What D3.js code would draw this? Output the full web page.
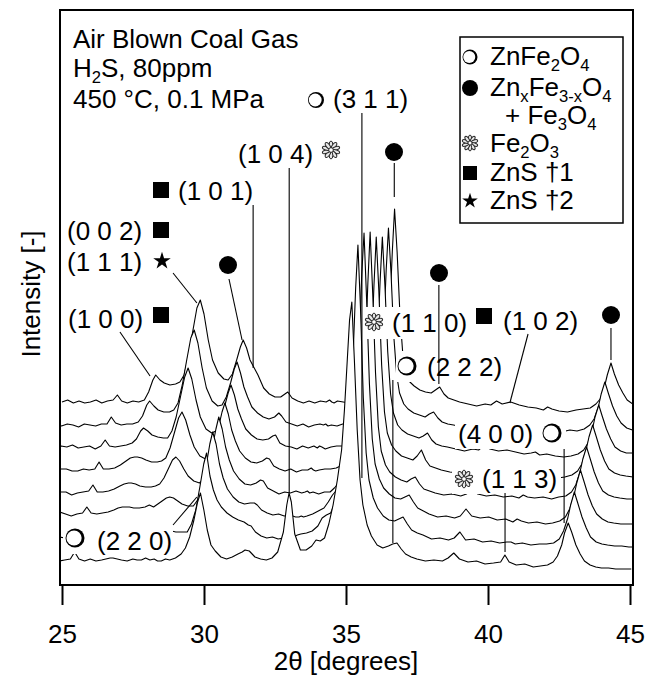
<!DOCTYPE html>
<html>
<head>
<meta charset="utf-8">
<script src="https://cdn.jsdelivr.net/npm/d3@7"></script>
<style>
    body { margin: 0; background: #fff; }
    text { font-family: 'Liberation Sans', Arial, sans-serif; fill: #000; }
</style>
</head>
<body>
<svg id="chart" width="645" height="677"></svg>
<script>
// 2θ grid of the top scan; every lower scan is the same grid moved left (waterfall)
const twoTheta = [
    25.0, 25.2, 25.4, 25.6, 25.8, 26.0, 26.2, 26.4, 26.6,
    26.8, 26.95, 27.1,
    27.3, 27.5, 27.7, 27.9,
    28.05, 28.2, 28.3, 28.45, 28.6,
    28.8, 29.0, 29.15,
    29.3, 29.45, 29.6, 29.75, 29.87, 30.0, 30.15, 30.3, 30.5, 30.7,
    30.85, 31.0, 31.15, 31.28, 31.38, 31.5, 31.62, 31.75, 31.9, 32.1, 32.3, 32.5, 32.7,
    32.85, 32.95, 33.1, 33.3, 33.5, 33.7, 33.9, 34.1,
    34.3, 34.42, 34.5, 34.58, 34.7, 34.9, 35.1, 35.3,
    35.45, 35.6, 35.75, 35.9, 36.05, 36.2, 36.35, 36.45, 36.55, 36.63, 36.71, 36.8, 36.9, 37.0, 37.1, 37.25, 37.4, 37.6, 37.8,
    38.0, 38.15, 38.3, 38.45, 38.6, 38.8,
    39.0, 39.3, 39.6, 39.9, 40.1, 40.3, 40.5, 40.8, 41.1, 41.4, 41.7, 41.95, 42.1, 42.25, 42.5, 42.8, 43.1, 43.35,
    43.6, 43.8, 43.95, 44.1, 44.2, 44.33, 44.45, 44.6, 44.75, 44.9, 45.1, 45.3, 45.5, 45.75, 46.0, 46.25, 46.55
]

// waterfall: horizontal shift [deg] and vertical offset [a.u.] of each scan, top to bottom
const shift = [0, -0.215, -0.43, -0.645, -0.86, -1.075, -1.29, -1.505]
const offset = [183, 160, 138, 115, 92, 71, 47, 25]

// intensities above each scan's own offset [a.u.]
const scan1 = [
    0, 2, -1, 1, -1, 0, 2, -1, 1,
    2, 7, 1,
    -1, 1, 0, 2,
    10, 22, 27, 22, 19,
    17, 18, 20,
    27, 45, 70, 94, 102, 88, 62, 42, 29, 23,
    22, 28, 42, 55, 62, 54, 42, 35, 27, 14, 8, 5, 5,
    8, 10, 4, 1, -1, 1, -1, 1,
    0, 2, 0, -1, 1, 0, -1, 0,
    1, 2, 4, 7, 12, 20, 35, 55, 96, 150, 193, 150, 87, 48, 30, 20, 16, 12, 10,
    9, 12, 15, 8, 4, 2,
    0, -2, -4, -2, -3, 1, -2, 0, -3, -5, -6, -8, -5, -7, -9, -10, -8, -7,
    -6, -2, 3, 15, 27, 39, 28, 17, 9, 2, -2, -3, -4, -4, -4, -4, -4
]
const scan2 = [
    1, -1, 1, 0, -2, 1, 0, -1, 1,
    1, 8, 2,
    0, 1, 1, 3,
    9, 20, 24, 19, 15,
    13, 13, 15,
    22, 40, 64, 87, 95, 82, 57, 37, 24, 19,
    20, 28, 42, 56, 63, 52, 38, 28, 18, 12, 8, 6, 8,
    12, 9, 3, 1, -1, 1, -2, 0,
    1, 0, 1, -1, 0, -1, 1, 1,
    2, 4, 7, 10, 15, 24, 40, 60, 100, 155, 197, 152, 88, 50, 32, 21, 16, 12, 10,
    8, 11, 13, 7, 3, 1,
    0, -2, -1, -3, -2, 1, -3, -2, -4, -3, -5, -4, -3, -6, -5, -7, -5, -6,
    -4, 0, 6, 18, 31, 43, 32, 19, 9, 2, -3, -5, -6, -6, -6, -6, -6
]
const scan3 = [
    0, -2, 1, 0, 2, -1, 0, 1, -2,
    1, 7, 1,
    0, 1, 2, 4,
    8, 16, 19, 16, 12,
    10, 9, 9,
    16, 30, 50, 70, 79, 68, 47, 30, 18, 14,
    16, 25, 40, 54, 62, 52, 38, 28, 18, 12, 8, 7, 8,
    11, 12, 4, 1, 0, -2, 1, -1,
    1, -1, 1, 0, -2, 0, 1, 1,
    3, 6, 10, 14, 20, 30, 48, 70, 110, 165, 210, 162, 95, 53, 34, 22, 17, 13, 11,
    9, 11, 14, 7, 3, 1,
    0, -2, -4, -2, -3, 2, -2, -4, -3, -5, -7, -6, -5, -8, -7, -9, -10, -9,
    -7, -3, 4, 17, 30, 42, 31, 18, 8, 0, -4, -6, -6, -7, -6, -6, -6
]
const scan4 = [
    1, -1, -1, 1, 1, -1, -1, 1, 0,
    1, 8, 1,
    1, 2, 5, 9,
    12, 13, 13, 12, 10,
    8, 8, 9,
    12, 22, 37, 52, 58, 50, 35, 23, 14, 11,
    15, 25, 42, 58, 67, 56, 40, 29, 19, 12, 8, 7, 9,
    12, 11, 4, 1, -1, 1, -2, 0,
    0, 2, 0, -1, 0, 1, 1, 2,
    4, 8, 12, 17, 24, 35, 55, 80, 125, 185, 233, 180, 105, 58, 37, 25, 19, 14, 12,
    10, 14, 20, 10, 4, 2,
    0, -2, -3, -1, -3, 3, -2, -4, -3, -5, -5, -7, -4, -6, -8, -7, -8, -7,
    -5, -1, 6, 20, 33, 45, 34, 20, 9, 1, -3, -5, -6, -7, -7, -7, -7
]
const scan5 = [
    0, 2, 0, -1, 1, 1, -2, 0, 1,
    2, 8, 1,
    1, 2, 4, 7,
    9, 10, 10, 9, 7,
    6, 6, 7,
    9, 15, 24, 33, 36, 32, 24, 17, 12, 10,
    14, 25, 45, 64, 76, 64, 46, 33, 22, 14, 9, 8, 10,
    13, 12, 5, 2, -1, 1, 0, 2,
    0, 1, 2, 0, 1, -1, 1, 1,
    5, 10, 15, 22, 32, 45, 70, 100, 150, 210, 261, 200, 120, 66, 42, 28, 21, 16, 13,
    11, 14, 16, 9, 4, 2,
    0, -2, -1, -3, -1, 4, -1, -3, -2, -4, -3, -5, -2, -4, -5, -4, -6, -4,
    -3, 1, 8, 21, 34, 46, 35, 21, 10, 2, -2, -4, -5, -6, -6, -6, -6
]
const scan6 = [
    1, -1, 1, -1, 0, 2, 0, -2, 0,
    1, 7, 1,
    0, 1, 2, 4,
    6, 7, 7, 7, 6,
    6, 7, 9,
    7, 10, 13, 16, 17, 16, 13, 10, 8, 8,
    14, 26, 48, 70, 82, 70, 50, 36, 25, 17, 12, 10, 11,
    11, 9, 4, 1, -1, 0, -2, -1,
    -3, -3, -2, -3, -2, 0, 3, 6,
    12, 19, 24, 32, 45, 62, 90, 125, 180, 240, 281, 215, 130, 75, 50, 35, 26, 20, 16,
    15, 17, 19, 12, 6, 3,
    0, -3, -2, -4, -2, 5, -2, -4, -3, -6, -5, -8, -5, -7, -9, -8, -10, -9,
    -7, -3, 5, 18, 31, 44, 33, 19, 8, 0, -5, -8, -9, -10, -10, -10, -10
]
const scan7 = [
    0, -1, 1, 1, -1, -1, 1, 0, -2,
    1, 8, 2,
    0, 1, 2, 3,
    4, 5, 5, 5, 4,
    4, 4, 5,
    5, 6, 7, 8, 8, 8, 7, 6, 6, 6,
    14, 28, 52, 74, 85, 62, 48, 38, 31, 25, 21, 18, 16,
    13, 12, 6, 2, 0, 1, -1, 0,
    0, 1, 2, 3, 4, 5, 7, 12,
    20, 23, 25, 35, 50, 70, 100, 140, 190, 250, 293, 230, 140, 85, 58, 40, 30, 22, 18,
    17, 19, 21, 14, 8, 5,
    3, -1, 0, -2, 0, 6, -2, -1, -4, -3, -5, -4, -4, -6, -5, -7, -6, -6,
    -5, -1, 7, 20, 33, 46, 35, 21, 10, 1, -4, -6, -7, -8, -8, -9, -9
]
const scan8 = [
    0, 1, 0, -1, 1, 0, 2, -1, 0,
    1, 8, 1,
    -1, 1, -1, 0,
    1, 2, 2, 1, 0,
    -1, 1, 0,
    0, 2, 0, 1, -1, -1, 1, 0, 2, 6,
    12, 23, 40, 58, 67, 50, 30, 15, 9, 3, 1, 3, 6,
    8, 10, 9, 3, 1, 0, 2, 8,
    28, 55, 67, 58, 26, 10, 10, 14,
    20, 19, 22, 36, 55, 80, 110, 150, 200, 240, 258, 200, 130, 80, 55, 35, 24, 15, 12,
    14, 16, 17, 11, 6, 3,
    1, -1, 0, -1, 2, 7, 1, -2, -1, -4, -3, -2, 5, -2, -5, -4, -7, -6,
    -5, -2, 4, 15, 27, 37, 28, 15, 6, -1, -5, -7, -8, -8, -9, -9, -9
]
const scans = [scan1, scan2, scan3, scan4, scan5, scan6, scan7, scan8]

const xTicks = [25, 30, 35, 40, 45]

// peak markers: drop lines [2θ, intensity] -> [2θ, intensity]
const dropLines = [
    [[35.56, 472], [35.56, 107]],   // ZnFe2O4 (311)
    [[36.7, 422], [36.7, 388]],     // spinel (311)
    [[33.0, 417], [33.0, 92]],      // Fe2O3 (104)
    [[31.73, 380], [31.73, 217]],   // ZnS (101)
    [[28.91, 312], [29.75, 282]],   // ZnS (111)
    [[27.04, 253], [28.1, 209]],    // ZnS (100)
    [[30.88, 306], [31.34, 245]],   // spinel (220)
    [[28.91, 60], [29.75, 88]],     // ZnFe2O4 (220)
    [[38.27, 300], [38.27, 201]],   // spinel (222)
    [[41.41, 251], [40.77, 182]],   // ZnS (102)
    [[44.33, 257], [44.33, 225]],   // spinel (400)
    [[36.65, 205], [36.65, 42]],    // ZnFe2O4 (222)
    [[42.68, 136], [42.68, 62]],    // ZnFe2O4 (400)
    [[40.6, 92], [40.6, 33]]        // Fe2O3 (113)
]

const x = d3.scaleLinear().domain([25, 45]).range([62, 630])
const y = d3.scaleLinear().domain([0, 575]).range([585, 10])

const svg = d3.select('#chart')
const FS = 26

svg.append('defs')
    .append('clipPath')
    .attr('id', 'plot-clip')
    .append('rect')
    .attr('x', 60)
    .attr('y', 10)
    .attr('width', 573)
    .attr('height', 575)

// scans, back (top) to front (bottom), each hiding what lies below it
const plot = svg.append('g').attr('clip-path', 'url(#plot-clip)')
const area = d3.area().x(d => x(d[0])).y0(y(0)).y1(d => y(d[1]))
const line = d3.line().x(d => x(d[0])).y(d => y(d[1]))

scans.forEach((scan, i) => {
    const points = twoTheta.map((t, j) => [t + shift[i], offset[i] + scan[j]])
    plot.append('path').datum(points).attr('d', area).attr('fill', '#fff')
    plot.append('path')
        .datum(points)
        .attr('d', line)
        .attr('fill', 'none')
        .attr('stroke', '#000')
        .attr('stroke-width', 1.1)
        .attr('stroke-linejoin', 'round')
})

// frame and axis
svg.append('rect')
    .attr('x', 60)
    .attr('y', 10)
    .attr('width', 573)
    .attr('height', 575)
    .attr('fill', 'none')
    .attr('stroke', '#000')
    .attr('stroke-width', 2)

const xAxis = svg.append('g')
    .attr('transform', 'translate(0,586)')
    .call(d3.axisBottom(x).tickValues(xTicks).tickSize(19).tickPadding(20).tickFormat(d3.format('d')))
xAxis.select('.domain').remove()
xAxis.selectAll('.tick line').attr('stroke', '#000').attr('stroke-width', 2)
xAxis.selectAll('.tick text')
    .attr('font-size', FS)
    .attr('font-family', "'Liberation Sans', Arial, sans-serif")
    .attr('fill', '#000')

svg.append('text')
    .attr('x', 346)
    .attr('y', 670)
    .attr('text-anchor', 'middle')
    .attr('font-size', FS)
    .text('2θ [degrees]')

svg.append('text')
    .attr('transform', 'translate(40,294) rotate(-90)')
    .attr('text-anchor', 'middle')
    .attr('font-size', FS)
    .text('Intensity [-]')

// helpers
const richText = (g, tx, ty, parts, size = FS) => {
    const t = g.append('text').attr('x', tx).attr('y', ty).attr('font-size', size)
    let current = 0
    parts.forEach(([s, sub]) => {
        const target = sub ? size * 0.22 : 0
        t.append('tspan')
            .attr('dy', target - current)
            .attr('font-size', sub ? size * 0.64 : size)
            .text(s)
        current = target
    })
    return t
}

const openCircle = (g, cx, cy, r) => {
    g.append('circle').attr('cx', cx).attr('cy', cy).attr('r', r).attr('fill', '#000')
    g.append('circle').attr('cx', cx - r * 0.1).attr('cy', cy).attr('r', r * 0.8).attr('fill', '#fff')
}
const dot = (g, cx, cy, r) => g.append('circle').attr('cx', cx).attr('cy', cy).attr('r', r).attr('fill', '#000')
const square = (g, cx, cy, s) => g.append('rect')
    .attr('x', cx - s / 2).attr('y', cy - s / 2).attr('width', s).attr('height', s).attr('fill', '#000')
const star = (g, cx, cy, size) => g.append('path')
    .attr('transform', `translate(${cx},${cy})`)
    .attr('d', d3.symbol().type(d3.symbolStar).size(size)())
    .attr('fill', '#000')
const flower = (g, cx, cy, r) => {
    const f = g.append('g').attr('transform', `translate(${cx},${cy})`)
    d3.range(10).forEach(i => {
        f.append('ellipse')
            .attr('cx', 0)
            .attr('cy', -r * 0.58)
            .attr('rx', r * 0.2)
            .attr('ry', r * 0.42)
            .attr('transform', `rotate(${i * 36})`)
            .attr('fill', '#e8e8e8')
            .attr('stroke', '#2a2a2a')
            .attr('stroke-width', 1)
    })
    f.append('circle').attr('r', r * 0.26).attr('fill', '#fff').attr('stroke', '#2a2a2a').attr('stroke-width', 1)
}
const blank = (g, bx, by, w, h) => g.append('rect')
    .attr('x', bx).attr('y', by).attr('width', w).attr('height', h).attr('fill', '#fff')

const notes = svg.append('g')

// white backs of labels that sit over the scans
blank(notes, 63, 523, 110, 31)
blank(notes, 363, 307, 108, 32)
blank(notes, 396, 351, 107, 31)
blank(notes, 455, 419, 111, 30)
blank(notes, 452, 464, 109, 30)

dropLines.forEach(([a, b]) => {
    notes.append('line')
        .attr('x1', x(a[0])).attr('y1', y(a[1]))
        .attr('x2', x(b[0])).attr('y2', y(b[1]))
        .attr('stroke', '#000')
        .attr('stroke-width', 1.1)
})

// conditions
richText(notes, 73, 48, [['Air Blown Coal Gas', 0]])
richText(notes, 73, 77, [['H', 0], ['2', 1], ['S, 80ppm', 0]])
richText(notes, 73, 108, [['450 °C, 0.1 MPa', 0]])

// peak labels
openCircle(notes, 316, 100, 8)
richText(notes, 333, 108, [['(3 1 1)', 0]])
dot(notes, 394, 152, 9)
richText(notes, 238, 163, [['(1 0 4)', 0]])
flower(notes, 331, 150, 9)
square(notes, 161, 190, 16)
richText(notes, 178, 200, [['(1 0 1)', 0]])
richText(notes, 67, 240, [['(0 0 2)', 0]])
square(notes, 161, 230, 16)
richText(notes, 67, 271, [['(1 1 1)', 0]])
star(notes, 162, 261, 95)
richText(notes, 68, 328, [['(1 0 0)', 0]])
square(notes, 161, 315, 16)
dot(notes, 228, 265, 9)
openCircle(notes, 75, 538, 9.5)
richText(notes, 97, 550, [['(2 2 0)', 0]])

dot(notes, 439, 273, 9)
flower(notes, 374, 322, 9)
richText(notes, 392, 332, [['(1 1 0)', 0]])
square(notes, 484, 316, 16)
richText(notes, 503, 330, [['(1 0 2)', 0]])
dot(notes, 611, 315, 9)
openCircle(notes, 407, 366, 9.5)
richText(notes, 427, 376, [['(2 2 2)', 0]])
richText(notes, 458, 443, [['(4 0 0)', 0]])
openCircle(notes, 552, 433, 9.5)
flower(notes, 464, 479, 9)
richText(notes, 482, 488, [['(1 1 3)', 0]])

// legend
const legend = svg.append('g')
legend.append('rect')
    .attr('x', 460)
    .attr('y', 37)
    .attr('width', 163)
    .attr('height', 186)
    .attr('fill', '#fff')
    .attr('stroke', '#000')
    .attr('stroke-width', 1.5)
openCircle(legend, 470, 57, 7.5)
richText(legend, 490, 65, [['ZnFe', 0], ['2', 1], ['O', 0], ['4', 1]])
dot(legend, 470, 88, 8)
richText(legend, 490, 96, [['Zn', 0], ['x', 1], ['Fe', 0], ['3-x', 1], ['O', 0], ['4', 1]])
richText(legend, 505, 124, [['+ Fe', 0], ['3', 1], ['O', 0], ['4', 1]])
flower(legend, 470, 143, 8)
richText(legend, 490, 152, [['Fe', 0], ['2', 1], ['O', 0], ['3', 1]])
square(legend, 470, 173, 14)
richText(legend, 490, 181, [['ZnS †1', 0]])
star(legend, 470, 201, 75)
richText(legend, 490, 209, [['ZnS †2', 0]])
</script>
</body>
</html>
